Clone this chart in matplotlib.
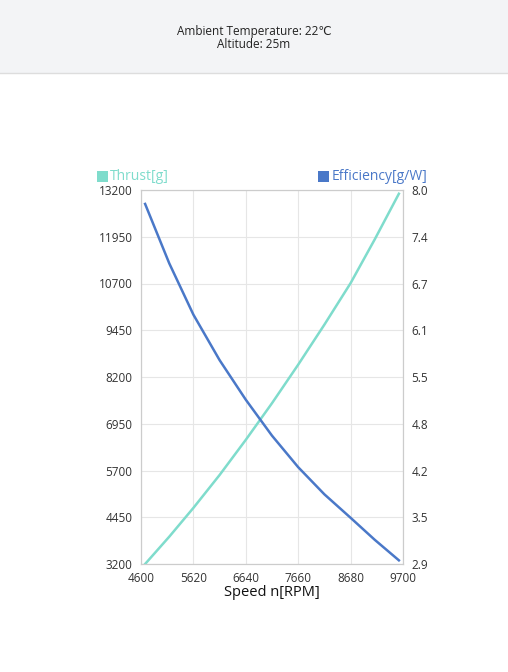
import matplotlib
matplotlib.use("Agg")
import matplotlib.pyplot as plt
from matplotlib.patches import Rectangle

speed = [4680, 5150, 5620, 6130, 6640, 7150, 7660, 8170, 8680, 9150, 9620]
thrust = [3200, 3930, 4700, 5580, 6520, 7500, 8530, 9600, 10710, 11880, 13100]
efficiency = [7.81, 7.00, 6.30, 5.68, 5.14, 4.65, 4.22, 3.85, 3.53, 3.23, 2.95]
xticks = [4600, 5620, 6640, 7660, 8680, 9700]
lticks = [3200, 4450, 5700, 6950, 8200, 9450, 10700, 11950, 13200]
rlabels = ["2.9", "3.5", "4.2", "4.8", "5.5", "6.1", "6.7", "7.4", "8.0"]

W, H = 508, 672
fig = plt.figure(figsize=(W/100, H/100), dpi=100)
fig.patch.set_facecolor("white")
fig.patches.append(Rectangle((0, 1-73/H), 1, 73/H, transform=fig.transFigure,
                             facecolor="#f3f4f6", edgecolor="none"))
fig.lines.append(plt.Line2D([0, 1], [1-73/H]*2, transform=fig.transFigure, color="#dddddd", lw=1))
fig.text(0.5, 1-31/H, "Ambient Temperature: 22℃", ha="center", va="center", fontsize=8.5, color="#222", family=["Open Sans", "DejaVu Sans"])
fig.text(0.5, 1-45/H, "Altitude: 25m", ha="center", va="center", fontsize=8.5, color="#222", family="Open Sans")

l, r, t, b = 141, 403, 190, 564
ax = fig.add_axes([l/W, 1-b/H, (r-l)/W, (b-t)/H])
ax.plot(speed, thrust, color="#7fdccc", lw=1.8)
ax.set_xlim(4600, 9700)
ax.set_ylim(3200, 13200)
ax.set_xticks(xticks)
ax.set_yticks(lticks)
ax.grid(True, color="#e6e6e6", lw=0.8)
for s in ax.spines.values():
    s.set_color("#cccccc")
ax.tick_params(length=0, labelsize=8.5, colors="#333", pad=6)
ax.set_xlabel("Speed n[RPM]", fontsize=10.5, color="#111", labelpad=0, family="Open Sans")

ax2 = ax.twinx()
ax2.plot(speed, efficiency, color="#4a78c8", lw=1.8)
ax2.set_ylim(2.9, 8.0)
ax2.set_yticks([2.9 + i*(5.1/8) for i in range(9)])
ax2.set_yticklabels(rlabels)
ax2.tick_params(length=0, labelsize=8.5, colors="#333", pad=6)
for s in ax2.spines.values():
    s.set_color("#cccccc")
for lab in ax.get_xticklabels()+ax.get_yticklabels()+ax2.get_yticklabels():
    lab.set_family("Open Sans")

fig.patches.append(Rectangle((97/W, 1-182/H), 11/W, 11/H, transform=fig.transFigure, facecolor="#7fdccc"))
fig.text(110/W, 1-176/H, "Thrust[g]", va="center", fontsize=10, color="#7fdccc", family="Open Sans")
fig.patches.append(Rectangle((318/W, 1-182/H), 11/W, 11/H, transform=fig.transFigure, facecolor="#4a78c8"))
fig.text(332/W, 1-176/H, "Efficiency[g/W]", va="center", fontsize=10, color="#4a78c8", family="Open Sans")

fig.savefig("out.png", dpi=100)
